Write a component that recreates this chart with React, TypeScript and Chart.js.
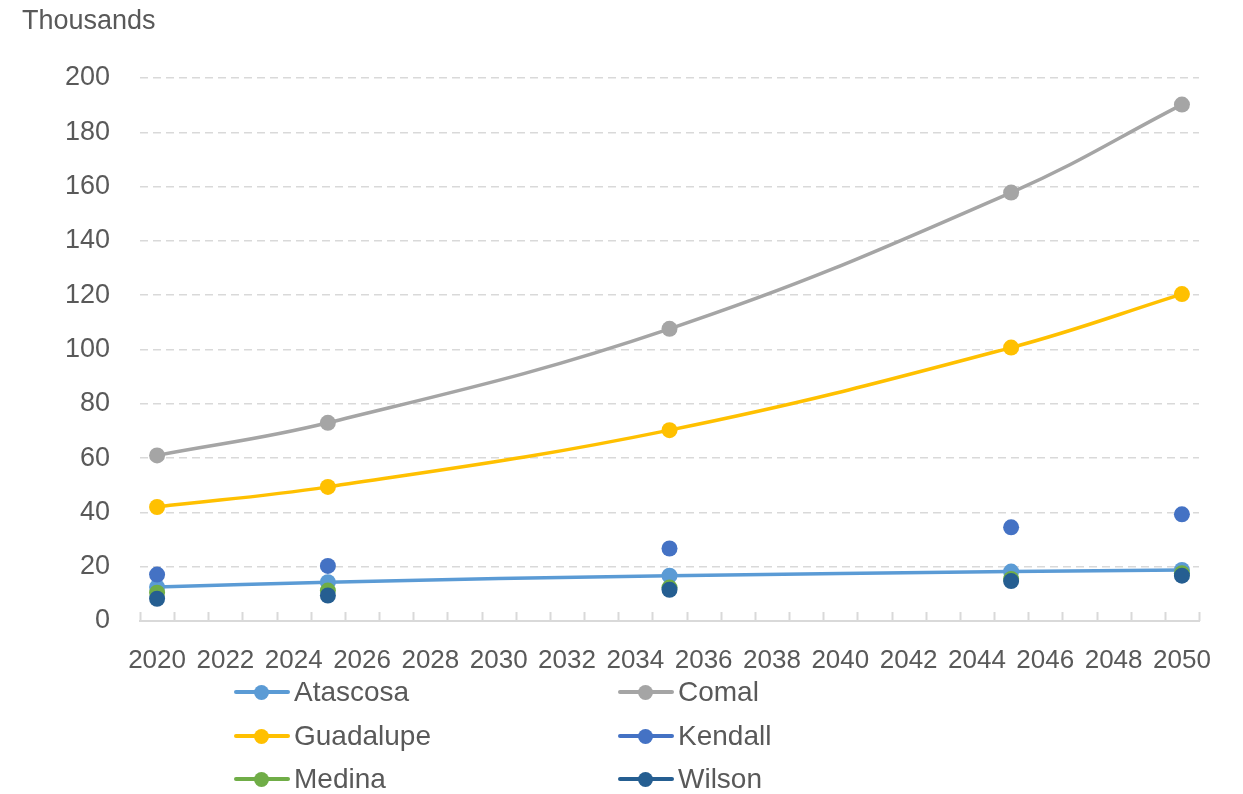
import React, { useEffect, useRef } from "react";
import { Chart, registerables } from "chart.js";

Chart.register(...registerables);

const years = [2020, 2025, 2035, 2045, 2050];
const xTickLabels = [2020, 2022, 2024, 2026, 2028, 2030, 2032, 2034, 2036, 2038, 2040, 2042, 2044, 2046, 2048, 2050];
const atascosa = [12.5, 14.3, 16.7, 18.2, 18.8];
const comal = [61.0, 73.0, 107.6, 157.8, 190.2];
const guadalupe = [42.0, 49.4, 70.3, 100.7, 120.4];
const kendall = [17.1, 20.3, 26.7, 34.5, 39.3];
const medina = [10.4, 11.2, 12.3, 15.5, 17.6];
const wilson = [8.2, 9.4, 11.5, 14.7, 16.7];

const seriesNames = ["Atascosa", "Comal", "Guadalupe", "Kendall", "Medina", "Wilson"];
const seriesValues = [atascosa, comal, guadalupe, kendall, medina, wilson];
const seriesColors = ["#5B9BD5", "#A5A5A5", "#FFC000", "#4472C4", "#70AD47", "#255E91"];
const seriesShowLine = [true, true, true, false, false, false];

const FONT = "'Liberation Sans', Arial, sans-serif";
const TEXT = "#595959";
const GRID = "#d9d9d9";

const tickMarksPlugin = {
  id: "insideTicks",
  beforeDatasetsDraw(chart: any) {
    const xs = chart.scales.x;
    const { ctx, chartArea } = chart;
    ctx.save();
    ctx.strokeStyle = GRID;
    ctx.lineWidth = 2;
    for (let v = xs.min; v <= xs.max + 0.001; v += 1) {
      const px = Math.round(xs.getPixelForValue(v)) + 0.5;
      ctx.beginPath();
      ctx.moveTo(px, chartArea.bottom);
      ctx.lineTo(px, chartArea.bottom - 9);
      ctx.stroke();
    }
    ctx.restore();
  },
};

export default function App() {
  const ref = useRef<HTMLCanvasElement | null>(null);

  useEffect(() => {
    if (!ref.current) return;
    const datasets = seriesNames.map((name, i) => ({
      label: name,
      data: years.map((y, j) => ({ x: y, y: seriesValues[i][j] })),
      borderColor: seriesColors[i],
      backgroundColor: seriesColors[i],
      pointBackgroundColor: seriesColors[i],
      pointBorderColor: seriesColors[i],
      pointRadius: 8,
      pointBorderWidth: 0,
      borderWidth: 3.5,
      showLine: seriesShowLine[i],
      tension: 0.4,
      order: seriesNames.length - i,
    }));
    const chart = new Chart(ref.current, {
      type: "scatter",
      data: { datasets },
      plugins: [tickMarksPlugin],
      options: {
        animation: false,
        responsive: false,
        devicePixelRatio: 1,
        layout: { padding: { top: 78, left: 0, right: 44, bottom: 113 } },
        plugins: { legend: { display: false }, tooltip: { enabled: false }, title: { display: false } },
        scales: {
          x: {
            type: "linear",
            min: 2019.5,
            max: 2050.5,
            afterBuildTicks: (axis: any) => {
              axis.ticks = xTickLabels.map((v) => ({ value: v }));
            },
            afterFit: (axis: any) => {
              axis.height = 60;
            },
            ticks: {
              autoSkip: false,
              maxRotation: 0,
              padding: 24,
              color: TEXT,
              font: { family: FONT, size: 26 },
              callback: (v: any) => String(v),
            },
            grid: { display: true, drawOnChartArea: false, drawTicks: false },
            border: { display: true, color: GRID, width: 2 },
          },
          y: {
            min: 0,
            max: 200,
            afterFit: (axis: any) => {
              axis.width = 140;
            },
            ticks: {
              stepSize: 20,
              padding: 30,
              color: TEXT,
              font: { family: FONT, size: 27 },
            },
            grid: {
              drawTicks: false,
              color: (c: any) => (c.tick && c.tick.value === 0 ? "rgba(0,0,0,0)" : GRID),
              lineWidth: 1.5,
            },
            border: { display: false, dash: [8, 5] },
          },
        },
      },
    });
    return () => chart.destroy();
  }, []);

  const legendCols = [234, 618];
  const legendRows = [692, 736, 779];

  return (
    <div style={{ position: "fixed", left: 0, top: 0, width: 1243, height: 794, background: "#fff", fontFamily: FONT }}>
      <canvas ref={ref} width={1243} height={794} style={{ position: "absolute", left: 0, top: 0, width: 1243, height: 794 }} />
      <div style={{ position: "absolute", left: 22, top: 20, transform: "translateY(-50%)", fontSize: 27, color: TEXT, lineHeight: 1 }}>
        Thousands
      </div>
      {seriesNames.map((name, i) => {
        const left = legendCols[i % 2];
        const cy = legendRows[Math.floor(i / 2)];
        return (
          <div key={name} style={{ position: "absolute", left, top: cy, transform: "translateY(-50%)", display: "flex", alignItems: "center", height: 34 }}>
            <div style={{ position: "relative", width: 56, height: 34 }}>
              <div style={{ position: "absolute", left: 0, top: 15, width: 56, height: 4, background: seriesColors[i], borderRadius: 2 }} />
              <div style={{ position: "absolute", left: 20, top: 10, width: 15, height: 15, borderRadius: 8, background: seriesColors[i] }} />
            </div>
            <span style={{ fontSize: 28, color: TEXT, marginLeft: 4, lineHeight: 1 }}>{name}</span>
          </div>
        );
      })}
    </div>
  );
}
